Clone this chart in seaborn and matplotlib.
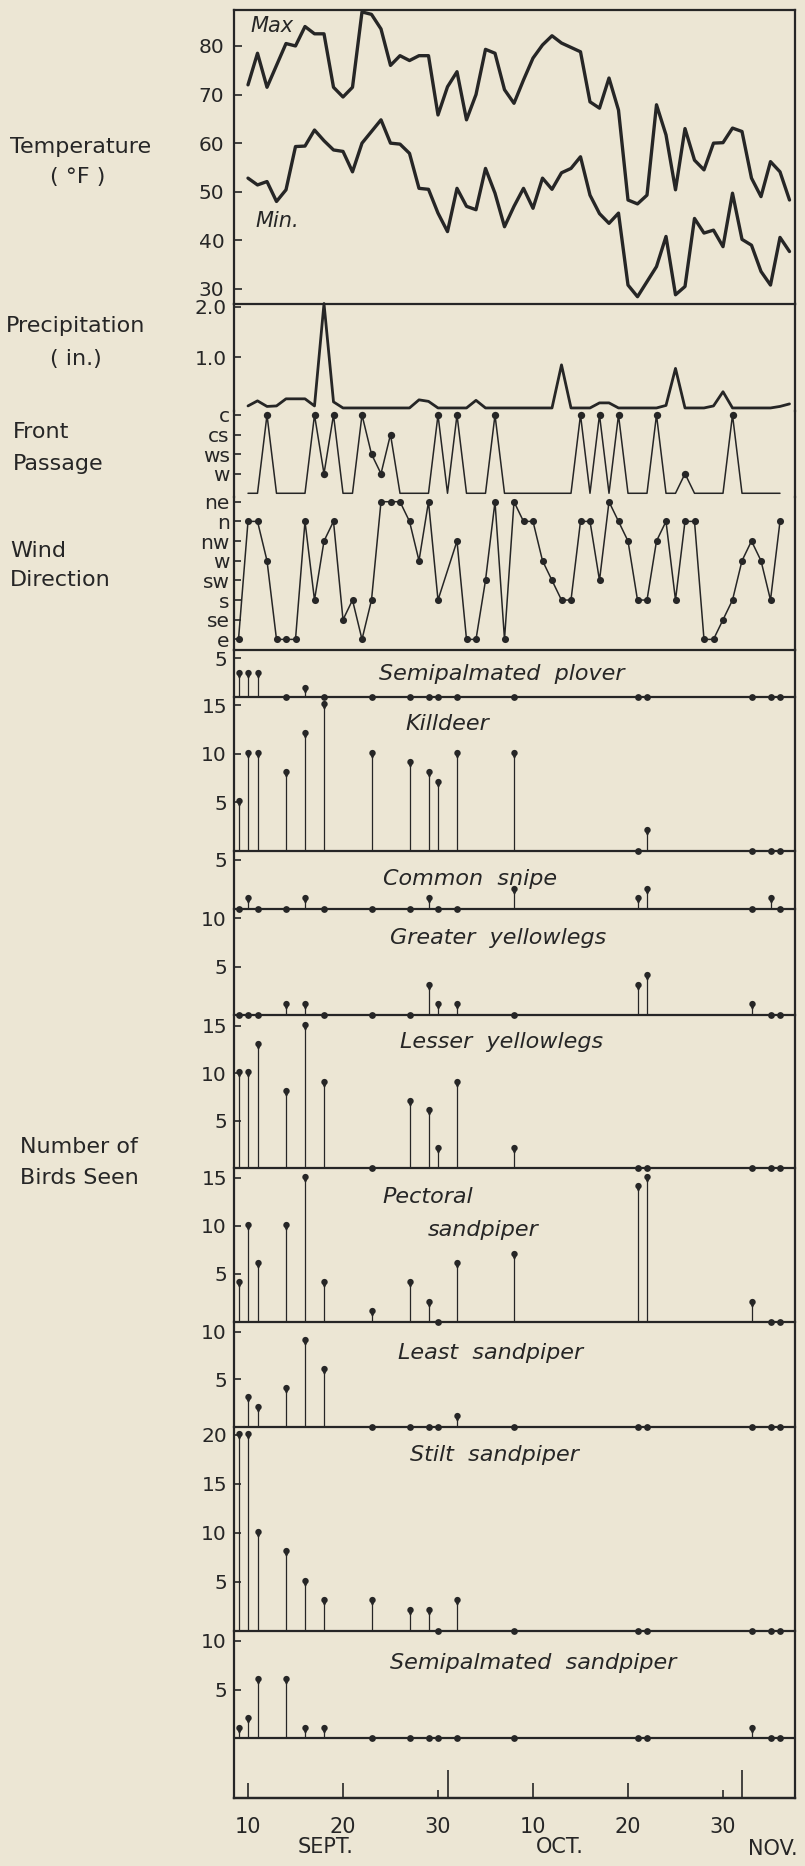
import numpy as np
import matplotlib
matplotlib.use("Agg")
import matplotlib.pyplot as plt
import matplotlib.path as mpath
import seaborn as sns

# ---------------- data ----------------
temp_days = list(range(10, 68))
temp_max = [72, 78.5, 71.5, 76, 80.5, 80, 84, 82.5, 82.5, 71.5,
            69.5, 71.5, 87, 86.5, 83.5, 76, 78, 77, 78, 78,
            65.8, 71.6, 74.7, 64.8, 70, 79.3, 78.5, 71, 68.2, 73,
            77.5, 80.2, 82.1, 80.6, 79.7, 78.8, 68.5, 67.2, 73.4, 66.8,
            48.3, 47.5, 49.3, 67.9, 61.7, 50.4, 63, 56.5, 54.5, 60,
            60.1, 63.1, 62.4, 52.8, 49, 56.2, 54.1, 48.3]
temp_min = [52.8, 51.4, 52.1, 48, 50.4, 59.3, 59.4, 62.7, 60.5, 58.6,
            58.3, 54.1, 60, 62.4, 64.8, 60, 59.8, 57.9, 50.7, 50.5,
            45.6, 41.8, 50.7, 47, 46.3, 54.8, 49.7, 42.8, 47, 50.7,
            46.6, 52.8, 50.5, 53.9, 54.8, 57.2, 49.3, 45.5, 43.5, 45.6,
            30.8, 28.4, 31.5, 34.6, 40.8, 28.8, 30.5, 44.5, 41.5, 42.1,
            38.7, 49.7, 40.2, 39, 33.6, 30.8, 40.6, 37.7]

precip_days = list(range(10, 68))
precip_in = [0.04, 0.14, 0.03, 0.04, 0.18, 0.18, 0.18, 0.04, 2.06, 0.12,
             0, 0, 0, 0, 0, 0, 0, 0, 0.16, 0.13,
             0, 0, 0, 0, 0.15, 0, 0, 0, 0, 0,
             0, 0, 0, 0.85, 0, 0, 0, 0.1, 0.1, 0,
             0, 0, 0, 0, 0.05, 0.78, 0, 0, 0, 0.04,
             0.32, 0, 0, 0, 0, 0, 0.03, 0.08]

front_labels = ["w", "ws", "cs", "c"]
front_days = list(range(10, 67))
front_event_days = [12, 17, 18, 19, 22, 23, 24, 25, 30, 32, 36, 45, 47, 49, 53, 56, 61]
front_event_type = ["c", "c", "w", "c", "c", "ws", "w", "cs", "c", "c", "c",
                    "c", "c", "c", "c", "w", "c"]

wind_labels = ["e", "se", "s", "sw", "w", "nw", "n", "ne"]
wind_days = list(range(9, 31)) + list(range(32, 67))
wind_dir = ["e", "n", "n", "w", "e", "e", "e", "n", "s", "nw", "n", "se", "s", "e",
            "s", "ne", "ne", "ne", "n", "w", "ne", "s",
            "nw", "e", "e", "sw", "ne", "e", "ne", "n", "n", "w", "sw", "s", "s", "n",
            "n", "sw", "ne", "n", "nw", "s", "s", "nw", "n", "s", "n", "n", "e", "e",
            "se", "s", "w", "nw", "w", "s", "n"]

survey_days = [9, 10, 11, 14, 16, 18, 23, 27, 29, 30, 32, 38, 51, 52, 63, 65, 66]
species_names = ["Semipalmated  plover", "Killdeer", "Common  snipe",
                 "Greater  yellowlegs", "Lesser  yellowlegs", "Pectoral\nsandpiper",
                 "Least  sandpiper", "Stilt  sandpiper", "Semipalmated  sandpiper"]
semipalmated_plover = [3, 3, 3, 0, 1, 0, 0, 0, 0, 0, 0, 0, 0, 0, 0, 0, 0]
killdeer = [5, 10, 10, 8, 12, 15, 10, 9, 8, 7, 10, 10, 0, 2, 0, 0, 0]
common_snipe = [0, 1, 0, 0, 1, 0, 0, 0, 1, 0, 0, 2, 1, 2, 0, 1, 0]
greater_yellowlegs = [0, 0, 0, 1, 1, 0, 0, 0, 3, 1, 1, 0, 3, 4, 1, 0, 0]
lesser_yellowlegs = [10, 10, 13, 8, 15, 9, 0, 7, 6, 2, 9, 2, 0, 0, 0, 0, 0]
pectoral_sandpiper = [4, 10, 6, 10, 15, 4, 1, 4, 2, 0, 6, 7, 14, 15, 2, 0, 0]
least_sandpiper = [np.nan, 3, 2, 4, 9, 6, 0, 0, 0, 0, 1, 0, 0, 0, 0, 0, 0]
stilt_sandpiper = [20, 20, 10, 8, 5, 3, 3, 2, 2, 0, 3, 0, 0, 0, 0, 0, 0]
semipalmated_sandpiper = [1, 2, 6, 6, 1, 1, 0, 0, 0, 0, 0, 0, 0, 0, 1, 0, 0]
species_counts = [semipalmated_plover, killdeer, common_snipe, greater_yellowlegs,
                  lesser_yellowlegs, pectoral_sandpiper, least_sandpiper,
                  stilt_sandpiper, semipalmated_sandpiper]
species_ticks = [[5], [5, 10, 15], [5], [5, 10], [5, 10, 15], [5, 10, 15], [5, 10],
                 [5, 10, 15, 20], [5, 10]]

# ---------------- style / layout ----------------
INK = "#262626"
BG = "#ece6d4"
sns.set_style("ticks", rc={"axes.facecolor": "none", "figure.facecolor": BG,
                           "axes.edgecolor": INK, "text.color": INK,
                           "xtick.color": INK, "ytick.color": INK})
plt.rcParams["font.family"] = ["DejaVu Sans"]

W, H = 805, 1866
L, R = 234, 795
X0, PXD = 153.0, 9.5
XLIM = ((L - X0) / PXD, (R - X0) / PXD)
TICK_FS = 14.5

fig = plt.figure(figsize=(W / 100, H / 100), dpi=100)
fig.patch.set_facecolor(BG)


def add_ax(top, bottom, show=("left", "right")):
    ax = fig.add_axes([L / W, 1 - bottom / H, (R - L) / W, (bottom - top) / H])
    ax.set_facecolor("none")
    for name, sp in ax.spines.items():
        sp.set_linewidth(1.6)
        sp.set_color(INK)
        sp.set_visible(name in show)
    ax.tick_params(axis="y", direction="in", length=5, width=1.2, pad=5,
                   labelsize=TICK_FS, colors=INK, left=True, right=False)
    ax.tick_params(axis="x", bottom=False, labelbottom=False, top=False)
    return ax


def finish(ax):
    ax.set_xlim(*XLIM)
    ax.set_xlabel("")
    ax.set_ylabel("")


def teardrop():
    ang = np.linspace(np.deg2rad(-55), np.deg2rad(235), 30)
    r, cy = 0.5, 0.22
    verts = [(r * np.cos(a), cy + r * np.sin(a)) for a in ang]
    verts.append((0.0, -0.75))
    verts.append(verts[0])
    codes = [mpath.Path.MOVETO] + [mpath.Path.LINETO] * (len(verts) - 2) + [mpath.Path.CLOSEPOLY]
    return mpath.Path(verts, codes)


TEAR = teardrop()

# ---- temperature ----
ax = add_ax(10, 304, show=("left", "right", "top", "bottom"))
sns.lineplot(x=temp_days, y=temp_max, ax=ax, color=INK, linewidth=2.4)
sns.lineplot(x=temp_days, y=temp_min, ax=ax, color=INK, linewidth=2.4)
ax.set_ylim(26.9, 87.4)
ax.set_yticks(range(30, 90, 10))
ax.tick_params(axis="y", length=6, pad=7)
finish(ax)

# ---- precipitation ----
ax = add_ax(304, 411, show=("left", "right"))
sns.lineplot(x=precip_days, y=precip_in, ax=ax, color=INK, linewidth=2.0, clip_on=False)
ax.set_ylim(-0.06, 2.05)
ax.set_yticks([1.0, 2.0])
ax.set_yticklabels(["1.0", "2.0"])
finish(ax)

# ---- front passage ----
ax = add_ax(411, 497, show=("left", "right"))
ev = dict(zip(front_event_days, front_event_type))
front_level = [front_labels.index(ev[d]) + 1 if d in ev else 0 for d in front_days]
sns.lineplot(x=front_days, y=front_level, ax=ax, color=INK, linewidth=1.1)
sns.scatterplot(x=front_event_days, y=[front_labels.index(t) + 1 for t in front_event_type],
                ax=ax, color=INK, edgecolor=INK, s=28, linewidth=0, zorder=4)
ax.set_ylim(-0.19, 4.2)
ax.set_yticks([1, 2, 3, 4])
ax.set_yticklabels(front_labels)
ax.tick_params(axis="y", pad=3)
finish(ax)

# ---- wind direction ----
ax = add_ax(497, 650, show=("left", "right", "bottom"))
wcode = [wind_labels.index(w) for w in wind_dir]
sns.lineplot(x=wind_days, y=wcode, ax=ax, color=INK, linewidth=1.1)
sns.scatterplot(x=wind_days, y=wcode, ax=ax, color=INK, edgecolor=INK, s=26,
                linewidth=0, zorder=4)
ax.set_ylim(-0.54, 7.24)
ax.set_yticks(range(8))
ax.set_yticklabels(wind_labels)
ax.tick_params(axis="y", pad=3)
finish(ax)

# ---- birds ----
bird_layout = [  # top, baseline, bottom, px per bird
    (650, 697.3, 697.3, 7.8),
    (697.3, 850.7, 850.7, 9.7),
    (850.7, 909.3, 909.3, 9.86),
    (909.3, 1015, 1015, 9.7),
    (1015, 1168.3, 1168.3, 9.5),
    (1168.3, 1321.7, 1321.7, 9.6),
    (1321.7, 1426.7, 1426.7, 9.5),
    (1426.7, 1630.7, 1630.7, 9.8),
    (1630.7, 1738.3, 1798, 9.75),
]
label_pos = [[(502, 674)], [(447, 724)], [(470, 879)], [(498, 938)], [(502, 1042)],
             [(428, 1197), (483, 1230)], [(491, 1353)], [(494, 1455)], [(533, 1663)]]

days_arr = np.array(survey_days, dtype=float)
for i, (name, counts, (top, base, bot, ppb), ticks) in enumerate(
        zip(species_names, species_counts, bird_layout, species_ticks)):
    last = i == len(species_names) - 1
    ax = add_ax(top, bot, show=("left", "right", "bottom") if last else ("left", "right"))
    vals = np.array(counts, dtype=float)
    ax.axhline(0, color=INK, linewidth=1.6, clip_on=False, zorder=2)
    nz = vals > 0
    z = vals == 0
    ax.vlines(days_arr[nz], 0, vals[nz], color=INK, linewidth=0.9, zorder=2)
    sns.scatterplot(x=days_arr[nz], y=vals[nz], ax=ax, marker=TEAR, s=48, color=INK,
                    edgecolor=INK, linewidth=0, zorder=4, clip_on=False)
    sns.scatterplot(x=days_arr[z], y=vals[z], ax=ax, marker="o", s=24, color=INK,
                    edgecolor=INK, linewidth=0, zorder=4, clip_on=False)
    ax.set_ylim((base - bot) / ppb, (base - top) / ppb)
    ax.set_yticks(ticks)
    finish(ax)
    for line, (lx, ly) in zip(name.split("\n"), label_pos[i]):
        fig.text(lx / W, 1 - ly / H, line, ha="center", va="center", fontsize=16,
                 style="italic", color=INK)
    if last:
        ax.set_xticks([10, 20, 40, 50])
        ax.set_xticklabels(["10", "20", "10", "20"])
        ax.tick_params(axis="x", which="major", bottom=True, labelbottom=True,
                       direction="in", length=11, width=1.2, pad=14, labelsize=15,
                       colors=INK)
        ax.set_xticks([31, 62], minor=True)
        ax.tick_params(axis="x", which="minor", bottom=True, direction="in",
                       length=20, width=1.2, colors=INK)
        sec = ax.secondary_xaxis("bottom")
        sec.set_xticks([30, 60])
        sec.set_xticklabels(["30", "30"])
        sec.tick_params(direction="in", length=6, width=1.2, pad=14, labelsize=15,
                        colors=INK)
        sec.spines["bottom"].set_linewidth(1.6)
        sec.spines["bottom"].set_color(INK)

# ---- text labels ----
def ftext(x, y, s, ha="left", size=16, **kw):
    fig.text(x / W, 1 - y / H, s, ha=ha, va="center", fontsize=size, color=INK, **kw)

ftext(10, 147, "Temperature")
ftext(78, 177, "( °F )", ha="center")
ftext(6, 326, "Precipitation")
ftext(76, 359, "( in.)", ha="center")
ftext(13, 432, "Front")
ftext(13, 464, "Passage")
ftext(10, 551, "Wind")
ftext(10, 580, "Direction")
ftext(20, 1147, "Number of")
ftext(20, 1178, "Birds Seen")
ftext(272, 26, "Max", ha="center", style="italic", size=15)
ftext(277, 221, "Min.", ha="center", style="italic", size=15)
ftext(326, 1847, "SEPT.", ha="center", size=15)
ftext(560, 1847, "OCT.", ha="center", size=15)
ftext(773, 1849, "NOV.", ha="center", size=15)

fig.savefig("out.png", dpi=100, facecolor=BG)
